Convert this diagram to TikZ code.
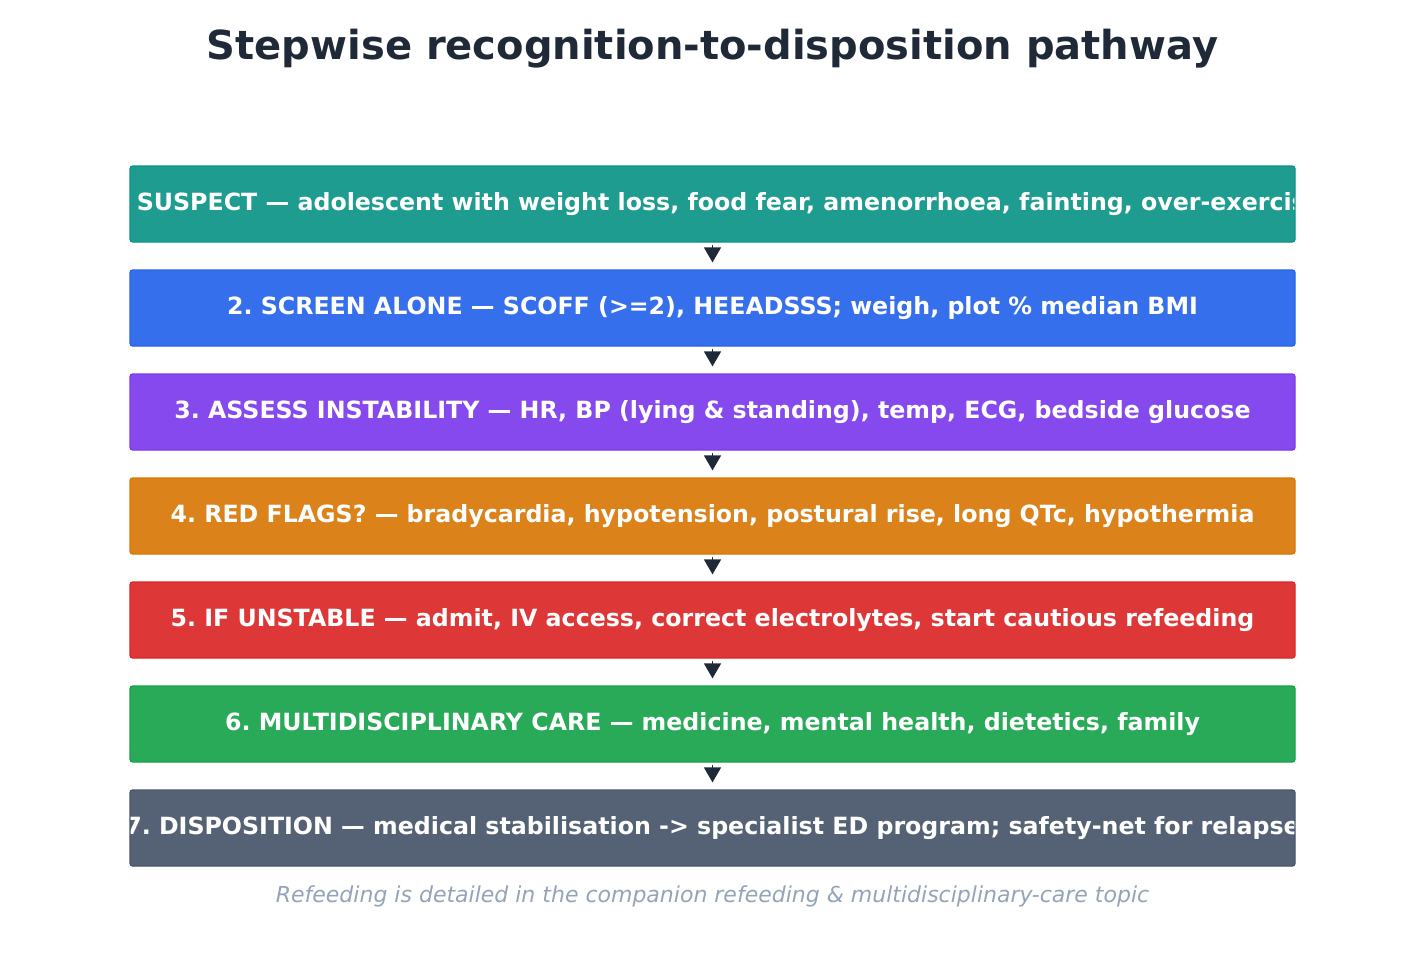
\documentclass[tikz,border=0pt]{standalone}
\usepackage{fontspec}
\setmainfont{DejaVu Sans}
\usetikzlibrary{arrows.meta}
\frenchspacing
\definecolor{cTitle}{HTML}{1F2937}
\definecolor{cFoot}{HTML}{94A3B8}
\definecolor{fTeal}{RGB}{31,156,144}\definecolor{eTeal}{HTML}{0D9488}
\definecolor{fBlue}{RGB}{54,111,236}\definecolor{eBlue}{HTML}{2563EB}
\definecolor{fPurple}{RGB}{134,73,238}\definecolor{ePurple}{HTML}{7C3AED}
\definecolor{fOrange}{RGB}{220,130,26}\definecolor{eOrange}{HTML}{D97706}
\definecolor{fRed}{RGB}{222,55,55}\definecolor{eRed}{HTML}{DC2626}
\definecolor{fGreen}{RGB}{40,170,88}\definecolor{eGreen}{HTML}{16A34A}
\definecolor{fSlate}{RGB}{85,98,117}\definecolor{eSlate}{HTML}{475569}
\begin{document}
\begin{tikzpicture}[x=1pt,y=-1pt,
  stepbox/.style n args={3}{rectangle, rounded corners=2.5pt, minimum width=1165pt, minimum height=76pt,
    inner sep=0pt, fill=#1, draw=#2, line width=1.2pt,
    path picture={\node[text=white, font=\fontsize{23.7}{28}\selectfont\bfseries, inner sep=0pt]
      at ([yshift=-1pt]path picture bounding box.center) {\frenchspacing\strut #3};}},
  flowarrow/.style={draw=cTitle, line width=1.5pt, -{Triangle[length=15pt,width=17pt]}, shorten >=7pt, shorten <=2pt}
]
\useasboundingbox (0,0) rectangle (1425,975);
\node[text=cTitle, font=\fontsize{40}{48}\selectfont\bfseries] (title) at (712.5,49) {Stepwise recognition-to-disposition pathway};
\node[stepbox={fTeal}{eTeal}{1. SUSPECT — adolescent with weight loss, food fear, amenorrhoea, fainting, over-exercise}] (s1) at (712.5,204) {};
\node[stepbox={fBlue}{eBlue}{2. SCREEN ALONE — SCOFF (>=2), HEEADSSS; weigh, plot \% median BMI}] (s2) at (712.5,308) {};
\node[stepbox={fPurple}{ePurple}{3. ASSESS INSTABILITY — HR, BP (lying \& standing), temp, ECG, bedside glucose}] (s3) at (712.5,412) {};
\node[stepbox={fOrange}{eOrange}{4. RED FLAGS? — bradycardia, hypotension, postural rise, long QTc, hypothermia}] (s4) at (712.5,516) {};
\node[stepbox={fRed}{eRed}{5. IF UNSTABLE — admit, IV access, correct electrolytes, start cautious refeeding}] (s5) at (712.5,620) {};
\node[stepbox={fGreen}{eGreen}{6. MULTIDISCIPLINARY CARE — medicine, mental health, dietetics, family}] (s6) at (712.5,724) {};
\node[stepbox={fSlate}{eSlate}{7. DISPOSITION — medical stabilisation -> specialist ED program; safety-net for relapse}] (s7) at (712.5,828) {};
\foreach \a/\b in {s1/s2,s2/s3,s3/s4,s4/s5,s5/s6,s6/s7}
  \draw[flowarrow] (\a.south) -- (\b.north);
\node[text=cFoot, font=\fontsize{22}{26}\selectfont\itshape] (foot) at (712.5,896) {Refeeding is detailed in the companion refeeding \& multidisciplinary-care topic};
\end{tikzpicture}
\end{document}
